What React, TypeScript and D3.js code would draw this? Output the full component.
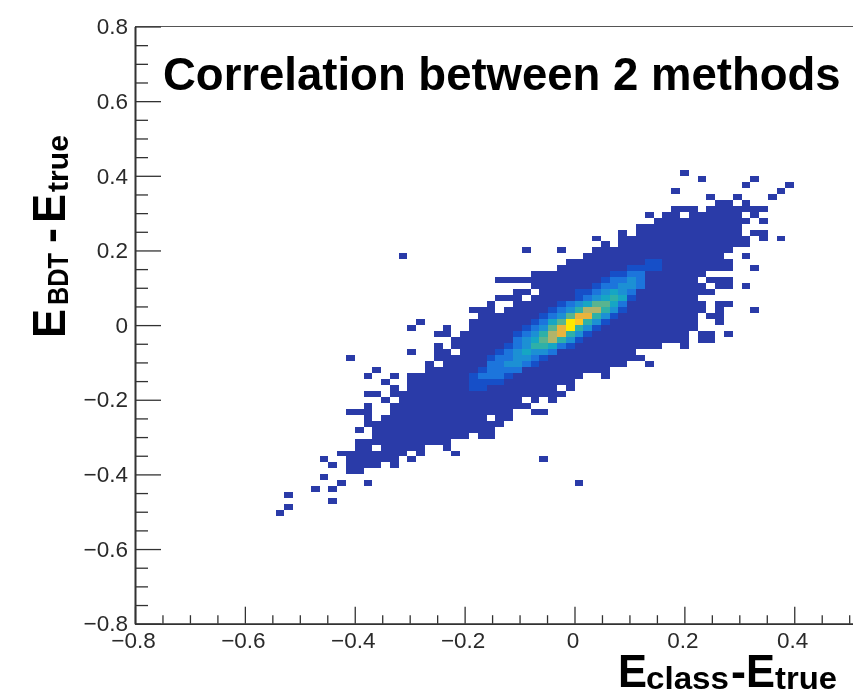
import * as d3 from "d3";
import { useEffect, useRef } from "react";

const binCount = 100;
const axisMin = -0.8;
const axisMax = 0.8;
const yMajorTicks = [-0.8, -0.6, -0.4, -0.2, 0, 0.2, 0.4, 0.6, 0.8];
// the x axis runs off the page after 0.4
const xMajorTicks = [-0.8, -0.6, -0.4, -0.2, 0, 0.2, 0.4];
const minorTicks = [
  -0.75, -0.7, -0.65, -0.55, -0.5, -0.45, -0.35, -0.3, -0.25, -0.15, -0.1, -0.05, 0.05, 0.1, 0.15, 0.25, 0.3, 0.35, 0.45,
  0.5, 0.55, 0.65, 0.7, 0.75,
];

// filled y bins, and for each one the runs of filled x bins [first, last]
const filledRows = [
  18, 19, 20, 21, 22, 23, 24, 25, 26, 27, 28, 29, 30, 31, 32, 33, 34, 35, 36, 37, 38, 39, 40, 41, 42, 43, 44, 45, 46, 47,
  48, 49, 50, 51, 52, 53, 54, 55, 56, 57, 58, 59, 60, 61, 62, 63, 64, 65, 66, 67, 68, 69, 70, 71, 72, 73, 74, 75,
];
const filledRuns = [
  [[16, 16]],
  [[17, 17]],
  [[22, 22]],
  [[17, 17]],
  [[20, 20], [22, 22]],
  [[23, 23], [26, 26], [50, 50]],
  [[21, 21]],
  [[24, 25]],
  [[22, 22], [24, 27], [29, 29]],
  [[21, 21], [24, 29], [31, 31], [46, 46]],
  [[23, 30], [32, 32], [36, 36]],
  [[25, 26], [28, 32], [35, 35]],
  [[25, 35]],
  [[27, 37], [39, 40]],
  [[25, 25], [27, 40]],
  [[26, 41]],
  [[26, 26], [28, 39], [41, 42]],
  [[24, 26], [29, 42], [45, 46]],
  [[26, 26], [29, 44]],
  [[28, 28], [30, 43], [45, 45], [47, 47]],
  [[26, 27], [29, 48]],
  [[29, 29], [31, 47], [49, 49]],
  [[28, 28], [31, 49]],
  [[26, 26], [29, 29], [31, 50], [53, 53]],
  [[27, 27], [33, 53]],
  [[33, 33], [35, 55], [58, 58]],
  [[24, 24], [34, 57]],
  [[31, 31], [34, 35], [37, 56]],
  [[34, 34], [36, 59], [62, 62]],
  [[36, 62], [64, 65]],
  [[34, 35], [37, 62], [64, 65], [67, 67]],
  [[31, 31], [35, 35], [38, 63]],
  [[32, 32], [38, 63], [66, 66]],
  [[39, 63], [65, 66]],
  [[38, 40], [42, 64], [66, 66], [70, 70]],
  [[40, 40], [43, 64], [66, 67]],
  [[41, 43], [45, 63]],
  [[43, 44], [46, 65]],
  [[45, 64], [66, 67], [69, 69]],
  [[41, 63], [65, 67]],
  [[45, 64]],
  [[48, 67], [70, 70]],
  [[49, 67]],
  [[30, 30], [51, 66], [69, 69]],
  [[44, 44], [48, 48], [52, 67]],
  [[53, 53], [55, 69]],
  [[52, 52], [55, 69], [71, 71], [73, 73]],
  [[55, 55], [57, 68], [70, 71]],
  [[57, 68]],
  [[59, 69], [71, 71]],
  [[58, 58], [60, 61], [63, 68], [70, 70]],
  [[61, 63], [65, 71]],
  [[66, 67], [69, 69]],
  [[65, 65], [68, 68], [72, 72]],
  [[61, 61], [73, 73]],
  [[69, 69], [74, 74]],
  [[64, 64], [70, 70]],
  [[62, 62]],
];

// bright ridge: y bin, first x bin, relative height of each bin on the 0-10 palette
const ridgeRows = [60, 59, 58, 57, 56, 55, 54, 53, 52, 51, 50, 49, 48, 47, 46, 45, 44, 43, 42, 41, 40, 39];
const ridgeStart = [58, 56, 54, 53, 52, 50, 50, 48, 47, 46, 45, 44, 43, 43, 42, 41, 40, 40, 39, 38, 38, 38];
const ridgeLevels = [
  [1, 1],
  [1, 1, 1, 1],
  [1, 1, 2, 2],
  [1, 2, 2, 3, 2],
  [1, 2, 2, 3, 3, 2],
  [1, 1, 2, 3, 4, 3, 2],
  [1, 2, 3, 4, 5, 4, 1],
  [1, 2, 3, 4, 6, 6, 4, 2],
  [1, 2, 3, 5, 7, 7, 5, 3, 1],
  [1, 2, 3, 6, 8, 8, 5, 3, 1],
  [1, 2, 4, 6, 10, 9, 5, 3, 1],
  [1, 2, 3, 6, 8, 10, 5, 3, 1],
  [1, 2, 3, 5, 7, 8, 5, 3, 1],
  [2, 3, 4, 6, 7, 5, 3, 1],
  [1, 2, 3, 5, 5, 4, 2, 1],
  [1, 2, 3, 4, 3, 3, 2],
  [1, 2, 2, 3, 3, 2, 1],
  [2, 2, 3, 3, 2, 1],
  [1, 2, 2, 2, 2],
  [1, 2, 2, 2, 1],
  [1, 1, 1, 1],
  [1, 1],
];
const paletteStops = [0, 1, 2, 3, 4, 5, 6, 7, 8, 9, 10];
const paletteColors = [
  "#2a3ba8", "#1250c8", "#1a74dc", "#1a90d4", "#14a6c4", "#2eb0a8", "#58b490", "#b0b46a", "#e8b43c", "#fcc624", "#fde800",
];

const width = 853;
const height = 691;

const fmt = (v: number) => {
  if (Math.abs(v) < 1e-9) return "0";
  return (v < 0 ? "\u2212" : "") + Math.abs(v).toFixed(1);
};

export default function App() {
  const svgRef = useRef<SVGSVGElement>(null);

  useEffect(() => {
    const svg = d3.select(svgRef.current);
    svg.selectAll("*").remove();

    const x = d3.scaleLinear().domain([axisMin, axisMax]).range([135, 1014]);
    const y = d3.scaleLinear().domain([axisMin, axisMax]).range([623.7, 26.5]);
    const binX = d3.scaleLinear().domain([0, binCount]).range([x(axisMin), x(axisMax)]);
    const binY = d3.scaleLinear().domain([0, binCount]).range([y(axisMin), y(axisMax)]);
    const color = d3.scaleLinear<string>().domain(paletteStops).range(paletteColors);

    const defs = svg.append("defs");
    defs.append("filter").attr("id", "soft").append("feGaussianBlur").attr("stdDeviation", 0.45);

    const root = svg.append("g").attr("filter", "url(#soft)");
    root.append("rect").attr("width", width).attr("height", height).attr("fill", "#fff");

    const cells: { i: number; j: number; level: number }[] = [];
    filledRows.forEach((j, r) => {
      filledRuns[r].forEach(([a, b]) => {
        for (let i = a; i <= b; i++) cells.push({ i, j, level: 0 });
      });
    });
    ridgeRows.forEach((j, r) => {
      ridgeLevels[r].forEach((level, k) => {
        const c = cells.find((d) => d.j === j && d.i === ridgeStart[r] + k);
        if (c) c.level = level;
      });
    });

    root
      .append("g")
      .attr("shape-rendering", "crispEdges")
      .selectAll("rect")
      .data(cells)
      .enter()
      .append("rect")
      .attr("x", (d) => binX(d.i))
      .attr("y", (d) => binY(d.j + 1))
      .attr("width", binX(1) - binX(0))
      .attr("height", binY(0) - binY(1))
      .attr("fill", (d) => color(d.level));

    // top frame line, no ticks
    root
      .append("line")
      .attr("x1", x(axisMin))
      .attr("x2", width)
      .attr("y1", y(axisMax))
      .attr("y2", y(axisMax))
      .attr("stroke", "#555")
      .attr("stroke-width", 1);

    const style = (g: any) => {
      g.selectAll("line").attr("stroke", "#333").attr("stroke-width", 1.3);
      g.selectAll("path").attr("stroke", "#333").attr("stroke-width", 1.6).attr("fill", "none");
      g.selectAll("text")
        .attr("font-family", "Liberation Sans, Arial, sans-serif")
        .attr("font-size", 22.5)
        .attr("fill", "#2a2a2a");
    };

    const bottom = root.append("g").attr("transform", `translate(0,${y(axisMin)})`);
    bottom
      .append("g")
      .call(d3.axisBottom(x).tickValues(minorTicks).tickSize(-8.5).tickSizeOuter(0).tickFormat(() => ""))
      .call(style);
    bottom
      .append("g")
      .call(d3.axisBottom(x).tickValues(xMajorTicks).tickSize(-17).tickSizeOuter(0).tickPadding(8).tickFormat(fmt))
      .call(style);
    bottom.selectAll("text").attr("dx", -2).attr("dy", "0.72em");

    const left = root.append("g").attr("transform", `translate(${x(axisMin)},0)`);
    left
      .append("g")
      .call(d3.axisLeft(y).tickValues(minorTicks).tickSize(-13).tickSizeOuter(0).tickFormat(() => ""))
      .call(style);
    left
      .append("g")
      .call(d3.axisLeft(y).tickValues(yMajorTicks).tickSize(-26).tickSizeOuter(0).tickPadding(7).tickFormat(fmt))
      .call(style);

    const label = (parent: any, txt: string, px: number, py: number, size: number, len?: number) => {
      const t = parent
        .append("text")
        .attr("x", px)
        .attr("y", py)
        .attr("font-family", "Liberation Sans, Arial, sans-serif")
        .attr("font-weight", "bold")
        .attr("font-size", size)
        .attr("fill", "#000")
        .text(txt);
      if (len) t.attr("textLength", len).attr("lengthAdjust", "spacingAndGlyphs");
      return t;
    };

    label(root, "Correlation between 2 methods", 163, 90, 45.5);

    // x title
    label(root, "E", 618, 687, 47, 29);
    label(root, "class", 646, 689, 32, 83);
    label(root, "-", 731, 687, 47, 15);
    label(root, "E", 746, 687, 47, 29);
    label(root, "true", 775, 689, 32, 62);

    // y title, read bottom to top
    const yTitle = root.append("g").attr("transform", "translate(65,338) rotate(-90)");
    label(yTitle, "E", 0, 0, 47, 29);
    label(yTitle, "BDT", 33, 3, 29, 52);
    label(yTitle, "-", 95, 0, 47, 15);
    label(yTitle, "E", 115, 0, 47, 29);
    label(yTitle, "true", 146, 3, 29, 57);
  }, []);

  return (
    <div>
      <svg
        ref={svgRef}
        width={width}
        height={height}
        style={{ position: "absolute", left: 0, top: 0, display: "block" }}
      ></svg>
    </div>
  );
}
